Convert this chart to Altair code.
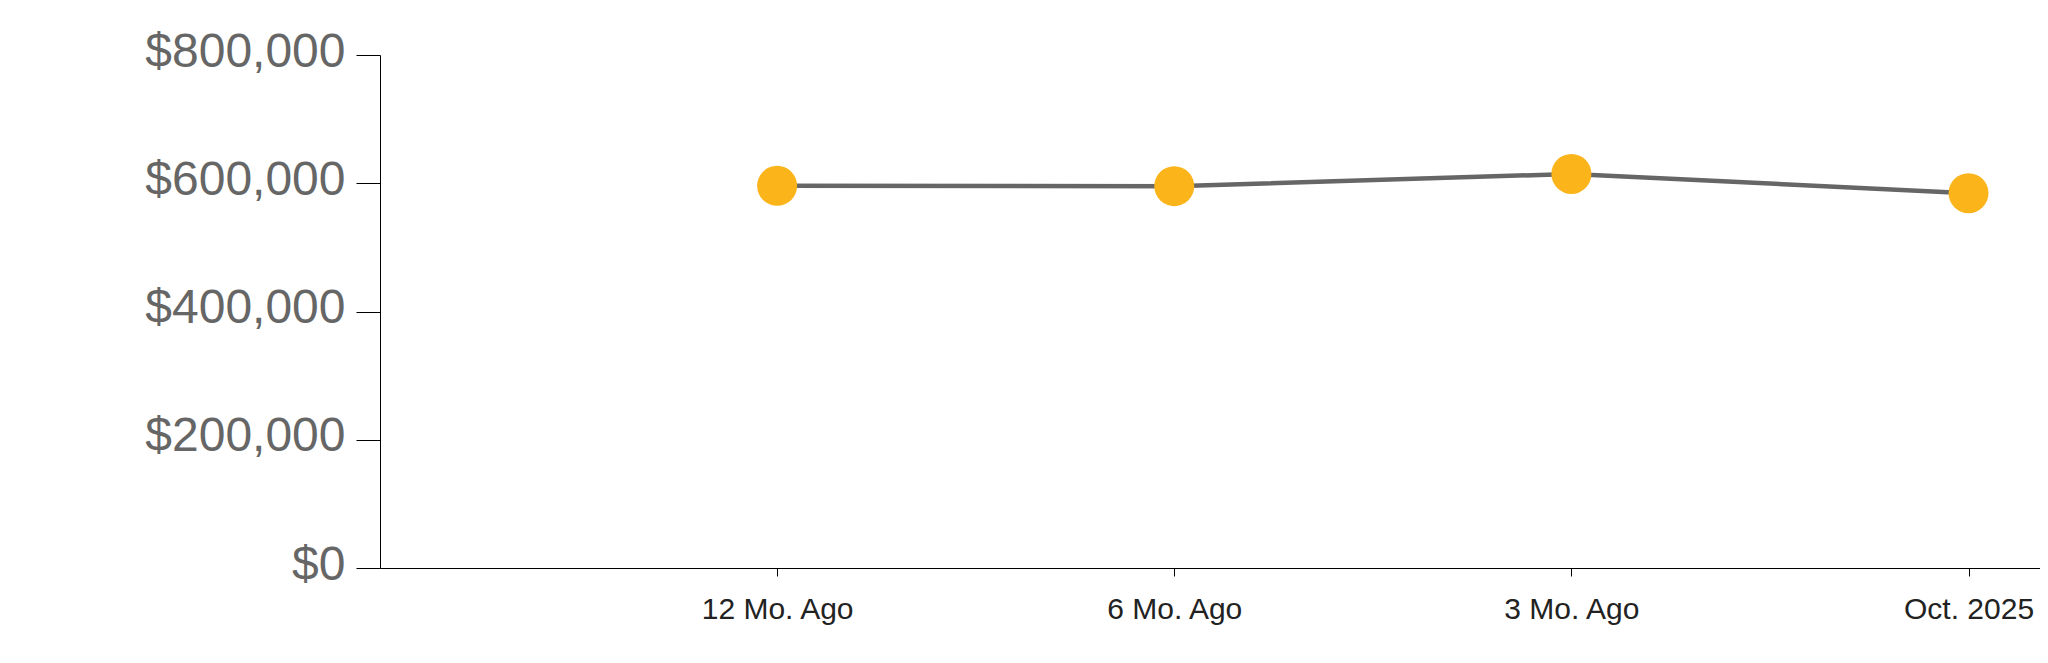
import altair as alt
import pandas as pd

labels = ["12 Mo. Ago", "6 Mo. Ago", "3 Mo. Ago", "Oct. 2025"]
positions = [1, 2, 3, 4]
prices = [596000, 595500, 614500, 584500]

df = pd.DataFrame({"pos": positions, "label": labels, "price": prices})

label_js = "[" + ",".join("'" + l + "'" for l in labels) + "]"

x = alt.X(
    "pos:Q",
    scale=alt.Scale(domain=[0, 4.18], nice=False, zero=False),
    axis=alt.Axis(
        values=positions,
        labelExpr=label_js + "[datum.value - 1]",
        title=None,
        grid=False,
        domainColor="#000000",
        tickColor="#000000",
        tickSize=8,
        labelFont="Liberation Sans, Arial",
        labelFontSize=30,
        labelColor="#222222",
        labelPadding=18,
        labelLimit=0,
        labelOverlap=False,
    ),
)
y = alt.Y(
    "price:Q",
    scale=alt.Scale(domain=[0, 800000], nice=False),
    axis=alt.Axis(
        values=[0, 200000, 400000, 600000, 800000],
        format="$,.0f",
        title=None,
        grid=False,
        domainColor="#000000",
        tickColor="#000000",
        tickSize=24,
        labelFont="Liberation Sans",
        labelFontSize=48,
        labelColor="#666666",
        labelPadding=11,
        labelOffset=-3,
        labelLimit=0,
    ),
)

base = alt.Chart(df)
line = base.mark_line(color="#666666", strokeWidth=4.5).encode(x=x, y=y)
pts = base.mark_circle(color="#FBB419", opacity=1, size=1600).encode(x=x, y=y)

chart = (
    (line + pts)
    .properties(
        width=1660,
        height=513,
        autosize=alt.AutoSizeParams(type="none"),
        padding={"left": 372, "top": 47, "right": 0, "bottom": 80},
    )
    .configure(background="#ffffff", view=alt.ViewConfig(stroke=None, strokeWidth=0))
)

chart.save("out.html", embed_options={"renderer": "svg", "actions": False})
